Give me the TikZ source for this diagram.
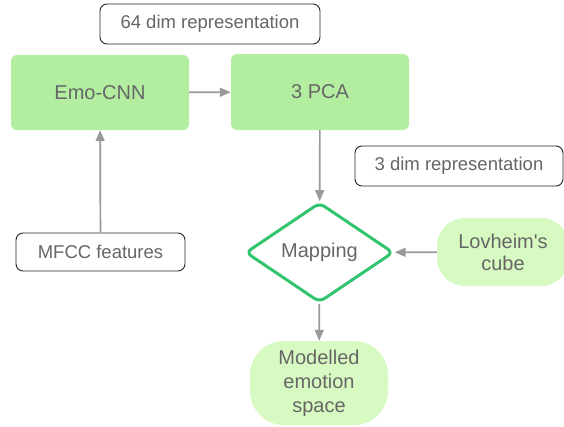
\documentclass[tikz,border=0pt]{standalone}
\usepackage{fontspec}
\setmainfont{Liberation Sans}
\usetikzlibrary{shapes.geometric,arrows.meta}
\definecolor{boxgreen}{HTML}{B3EEA0}
\definecolor{lightgreen}{HTML}{D7F9C2}
\definecolor{dgreen}{HTML}{33C46E}
\definecolor{txt}{HTML}{666666}
\definecolor{arr}{HTML}{999999}
\tikzset{
  greenbox/.style={fill=boxgreen, rounded corners=6pt, text=txt, font=\fontsize{20}{24}\selectfont, inner sep=0pt},
  labelbox/.style={draw=black!85, line width=0.9pt, rounded corners=7pt, fill=white, text=txt, font=\fontsize{18.5}{22}\selectfont, inner sep=0pt},
  softbox/.style={fill=lightgreen, rounded corners=28pt, text=txt, font=\fontsize{20}{24}\selectfont, align=center, inner sep=0pt},
  decision/.style={diamond, draw=dgreen, line width=3pt, rounded corners=6pt, text=txt, font=\fontsize{20}{24}\selectfont, inner sep=0pt, aspect=1.48, minimum width=148pt, minimum height=100pt},
  conn/.style={draw=arr, line width=1.7pt, -{Triangle[width=9pt,length=11pt]}}
}
\begin{document}
\begin{tikzpicture}[x=1pt,y=-1pt]
\useasboundingbox (0,0) rectangle (564,426);
\node[labelbox, minimum width=220pt, minimum height=40pt] (d64) at (210,24) {64 dim representation};
\node[greenbox, minimum width=178pt, minimum height=75pt] (cnn) at (100,92.5) {Emo-CNN};
\node[greenbox, minimum width=178pt, minimum height=76pt] (pca) at (320,92) {3 PCA};
\node[labelbox, minimum width=208pt, minimum height=40pt] (d3) at (459,166) {3 dim representation};
\node[decision] (map) at (319.5,252.5) {Mapping};
\node[softbox, minimum width=132pt, minimum height=68pt] (lov) at (503,252) {Lovheim\textquotesingle s\\[-2pt]cube};
\node[softbox, minimum width=138pt, minimum height=84pt, rounded corners=34pt] (mod) at (319,383) {Modelled\\[0pt]emotion\\[0pt]space};
\node[labelbox, minimum width=169pt, minimum height=38pt] (mfcc) at (100.5,252) {MFCC features};
\draw[conn] (mfcc) -- (cnn);
\draw[conn] (cnn) -- (pca);
\draw[conn] (pca) -- (map);
\draw[conn] (lov) -- (map);
\draw[conn] (map) -- (mod);
\end{tikzpicture}
\end{document}
